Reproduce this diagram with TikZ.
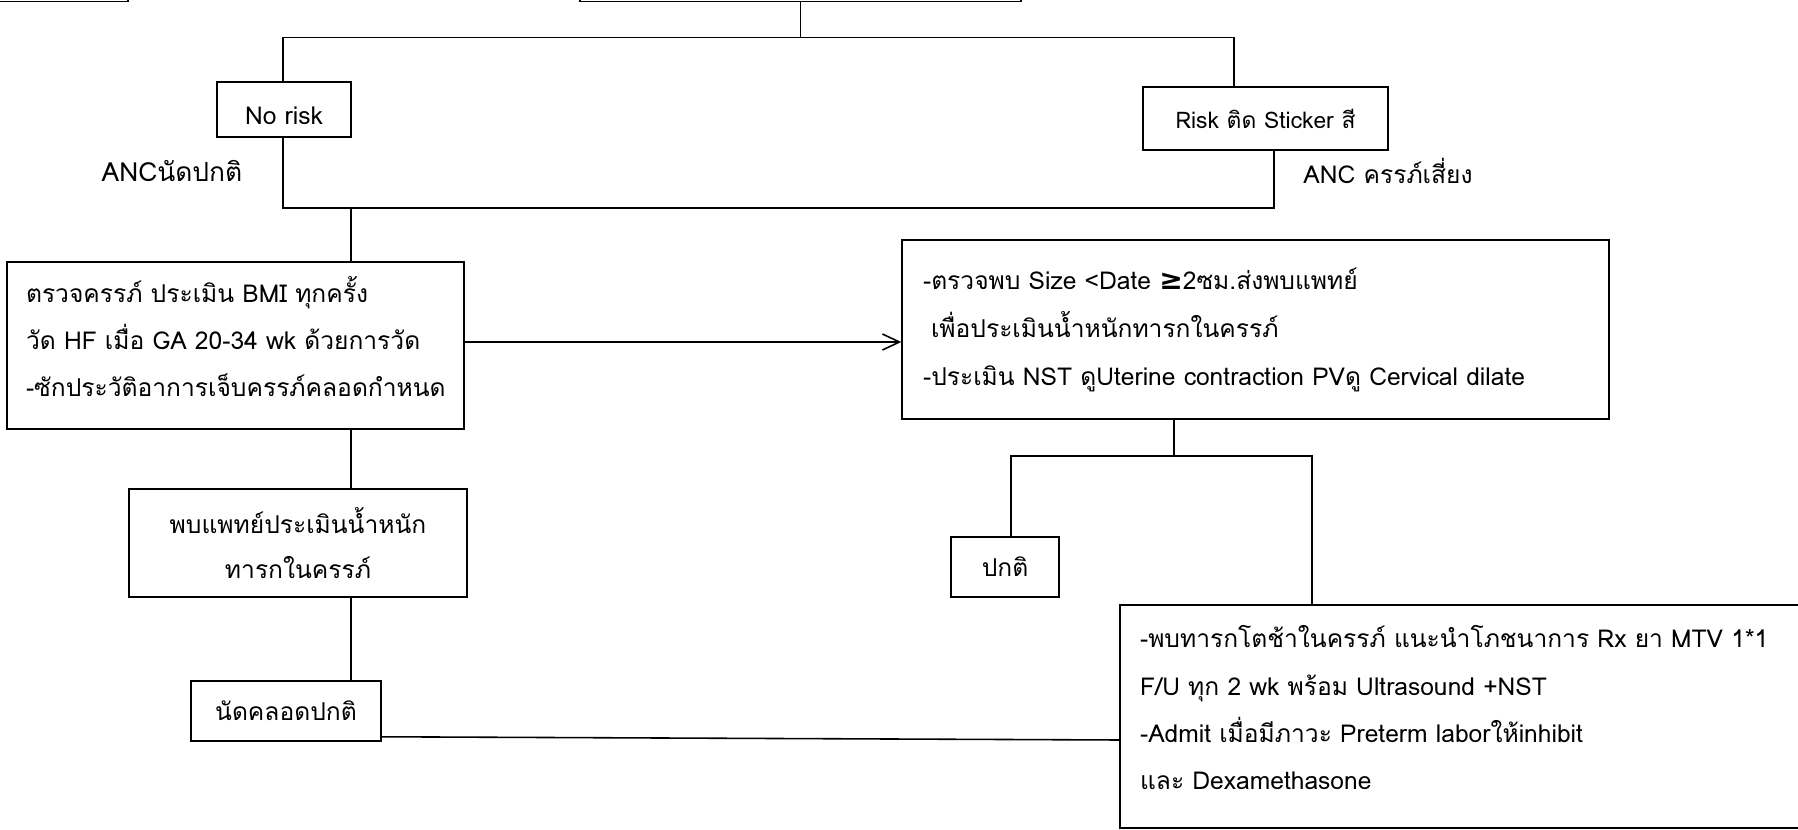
\documentclass[tikz,border=0pt]{standalone}
\usepackage{fontspec}
\setmainfont[Script=Thai]{Loma}
\newfontfamily\symfont{DejaVu Sans}
\usetikzlibrary{arrows.meta,positioning}

\begin{document}
\begin{tikzpicture}[x=0.02cm,y=-0.02cm,
  box/.style={draw,line width=0.9pt,inner sep=0pt,align=center,font=\fontsize{14}{25.4}\selectfont},
  note/.style={box,align=left},
  link/.style={line width=0.9pt}]
\useasboundingbox (0,0) rectangle (1798,830);

   %boxes:
\node (screen) at (49,-24) [box,minimum width=3.16cm,minimum height=1.02cm] {};
\node (assess) at (800.5,-24) [box,minimum width=8.82cm,minimum height=1.02cm] {};
\node (norisk) at (284,109.5) [box,minimum width=2.68cm,minimum height=1.1cm,text height=0.6cm] {No risk};
\node (risk) at (1265.5,118.5) [box,minimum width=4.9cm,minimum height=1.26cm,font=\fontsize{13}{15}\selectfont] {Risk ติด Sticker สี};
\node (ancnormal) at (172,171) [font=\fontsize{15}{18}\selectfont] {ANCนัดปกติ};
\node (ancrisk) at (1388,171) [font=\fontsize{14}{16}\selectfont] {ANC ครรภ์เสี่ยง};

\node (screenbox) at (235.5,345.5) [note,minimum width=9.14cm,minimum height=3.34cm,text width=8.38cm,text depth=64pt,font=\fontsize{14}{26.7}\selectfont] {ตรวจครรภ์ ประเมิน BMI ทุกครั้ง\\ วัด HF เมื่อ GA 20-34 wk ด้วยการวัด\\ \mbox{-ซักประวัติอาการเจ็บครรภ์คลอดกำหนด}};
\node (check) at (1255.5,329.5) [note,minimum width=14.14cm,minimum height=3.58cm,text width=13.3cm,font=\fontsize{14}{27.3}\selectfont] {-ตรวจพบ Size <Date {\symfont\bfseries\fontsize{16}{16}\selectfont ≥}2ซม.ส่งพบแพทย์\\ \hspace*{0.16cm}เพื่อประเมินน้ำหนักทารกในครรภ์\\ -ประเมิน NST ดูUterine contraction PVดู Cervical dilate};
\node (doctor) at (298,543) [box,minimum width=6.76cm,minimum height=2.16cm] {พบแพทย์ประเมินน้ำหนัก\\ ทารกในครรภ์};
\node (deliver) at (286,711) [box,minimum width=3.8cm,minimum height=1.2cm] {นัดคลอดปกติ};
\node (normal) at (1005,567) [box,minimum width=2.16cm,minimum height=1.2cm] {ปกติ};
\node (iugr) at (1480,716.5) [note,minimum width=14.4cm,minimum height=4.46cm,text width=13.6cm,text depth=91pt,font=\fontsize{14}{27}\selectfont] {-พบทารกโตช้าในครรภ์ แนะนำโภชนาการ Rx ยา MTV 1*1\\ F/U ทุก 2 wk พร้อม Ultrasound +NST\\ -Admit เมื่อมีภาวะ Preterm laborให้inhibit\\ และ Dexamethasone};

   %junctions:
\coordinate (splitL) at (283,37.5);
\coordinate (splitR) at (1234,37.5);
\coordinate (joinL) at (283,208);
\coordinate (joinM) at (351,208);
\coordinate (joinR) at (1274,208);
\coordinate (arr) at (464,342);
\coordinate (splitB) at (1174,456);
\coordinate (splitBL) at (1011,456);
\coordinate (splitBR) at (1312,456);
\coordinate (meet) at (1120,740);

\draw [link] (assess.south) -- (assess.south |- splitL);
\draw [link] (norisk.north -| splitL) -- (splitL) -- (splitR) -- (splitR |- risk.north);
\draw [link] (norisk.south -| joinL) -- (joinL) -- (joinR) -- (joinR |- risk.south);
\draw [link] (joinM) -- (joinM |- screenbox.north);
\draw [link,-{Straight Barb[length=0.34cm,width=0.32cm]}] (screenbox.east |- arr) -- (check.west |- arr);
\draw [link] (screenbox.south -| joinM) -- (doctor.north -| joinM);
\draw [link] (doctor.south -| joinM) -- (deliver.north -| joinM);
\draw [link] (check.south -| splitB) -- (splitB);
\draw [link] (normal.north -| splitBL) -- (splitBL) -- (splitBR) -- (iugr.north -| splitBR);
\draw [link] ([yshift=0.1cm]deliver.south east) -- (iugr.west |- meet);
\end{tikzpicture}
\end{document}
